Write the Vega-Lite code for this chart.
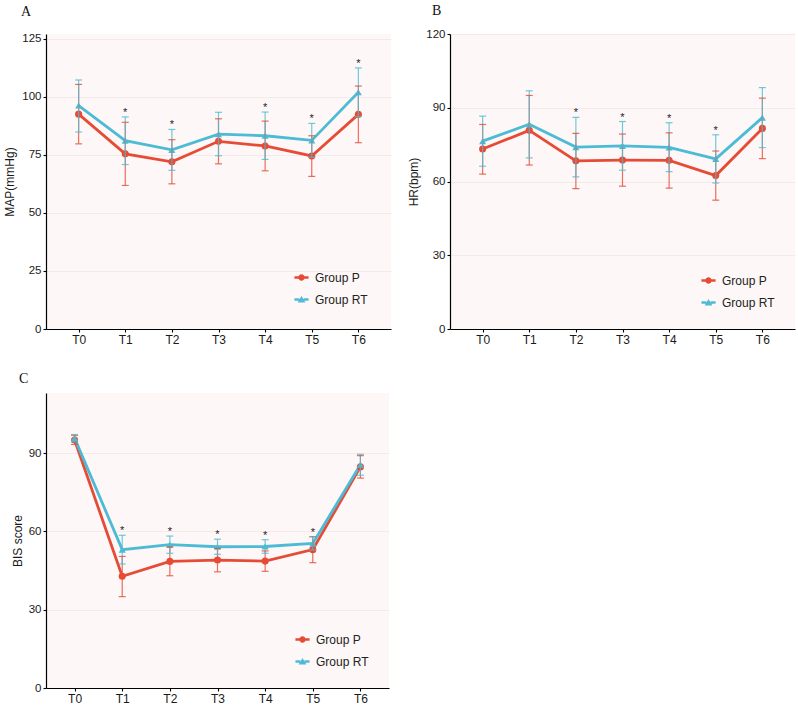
{
  "$schema": "https://vega.github.io/schema/vega-lite/v6.json",
  "padding": {"left": 3, "top": 4, "right": 3, "bottom": 3},
  "background": "white",
  "config": {
    "font": "Liberation Sans",
    "view": {"fill": "#FDF8F7", "stroke": null},
    "axis": {"domainColor": "#000000", "domainWidth": 1.2, "tickColor": "#000000", "tickWidth": 1.1, "tickSize": 3, "labelFont": "Liberation Sans", "labelFontSize": 12, "labelColor": "#1a1a1a", "titleFont": "Liberation Sans", "titleFontSize": 12, "titleFontWeight": "normal", "titleColor": "#1a1a1a", "labelPadding": 2, "gridColor": "#EFE4E2", "gridWidth": 0.7},
    "axisY": {"labelFontSize": 11.5},
    "legend": {"orient": "bottom-right", "offset": 18, "padding": 2, "labelFont": "Liberation Sans", "labelFontSize": 12, "labelColor": "#222222", "symbolSize": 200, "symbolStrokeWidth": 0, "rowPadding": 8, "labelOffset": 6},
    "title": {"font": "Liberation Serif", "fontSize": 14, "fontWeight": "normal", "color": "#111111", "anchor": "start", "frame": "group"}
  },
  "datasets": {
    "d": [
      {"panel": "A", "time": "T0", "group": "Group P", "mean": 92.5, "lo": 79.7, "hi": 105.3, "sig": false},
      {"panel": "A", "time": "T0", "group": "Group RT", "mean": 96.2, "lo": 84.8, "hi": 107.2, "sig": false},
      {"panel": "A", "time": "T1", "group": "Group P", "mean": 75.4, "lo": 61.8, "hi": 89.0, "sig": true},
      {"panel": "A", "time": "T1", "group": "Group RT", "mean": 81.1, "lo": 70.8, "hi": 91.3, "sig": true},
      {"panel": "A", "time": "T2", "group": "Group P", "mean": 72.0, "lo": 62.5, "hi": 81.5, "sig": true},
      {"panel": "A", "time": "T2", "group": "Group RT", "mean": 77.1, "lo": 68.3, "hi": 85.9, "sig": true},
      {"panel": "A", "time": "T3", "group": "Group P", "mean": 80.8, "lo": 71.1, "hi": 90.5, "sig": false},
      {"panel": "A", "time": "T3", "group": "Group RT", "mean": 83.9, "lo": 74.6, "hi": 93.3, "sig": false},
      {"panel": "A", "time": "T4", "group": "Group P", "mean": 78.8, "lo": 68.1, "hi": 89.5, "sig": true},
      {"panel": "A", "time": "T4", "group": "Group RT", "mean": 83.2, "lo": 73.0, "hi": 93.4, "sig": true},
      {"panel": "A", "time": "T5", "group": "Group P", "mean": 74.5, "lo": 65.7, "hi": 83.2, "sig": true},
      {"panel": "A", "time": "T5", "group": "Group RT", "mean": 81.2, "lo": 73.9, "hi": 88.5, "sig": true},
      {"panel": "A", "time": "T6", "group": "Group P", "mean": 92.4, "lo": 80.2, "hi": 104.6, "sig": true},
      {"panel": "A", "time": "T6", "group": "Group RT", "mean": 101.9, "lo": 91.4, "hi": 112.4, "sig": true},
      {"panel": "B", "time": "T0", "group": "Group P", "mean": 73.2, "lo": 63.0, "hi": 83.2, "sig": false},
      {"panel": "B", "time": "T0", "group": "Group RT", "mean": 76.4, "lo": 66.2, "hi": 86.6, "sig": false},
      {"panel": "B", "time": "T1", "group": "Group P", "mean": 80.8, "lo": 66.7, "hi": 95.0, "sig": false},
      {"panel": "B", "time": "T1", "group": "Group RT", "mean": 83.3, "lo": 69.6, "hi": 96.9, "sig": false},
      {"panel": "B", "time": "T2", "group": "Group P", "mean": 68.4, "lo": 57.1, "hi": 79.6, "sig": true},
      {"panel": "B", "time": "T2", "group": "Group RT", "mean": 74.0, "lo": 61.9, "hi": 86.1, "sig": true},
      {"panel": "B", "time": "T3", "group": "Group P", "mean": 68.7, "lo": 58.1, "hi": 79.3, "sig": true},
      {"panel": "B", "time": "T3", "group": "Group RT", "mean": 74.5, "lo": 64.6, "hi": 84.4, "sig": true},
      {"panel": "B", "time": "T4", "group": "Group P", "mean": 68.6, "lo": 57.3, "hi": 79.8, "sig": true},
      {"panel": "B", "time": "T4", "group": "Group RT", "mean": 73.9, "lo": 64.0, "hi": 83.9, "sig": true},
      {"panel": "B", "time": "T5", "group": "Group P", "mean": 62.4, "lo": 52.4, "hi": 72.4, "sig": true},
      {"panel": "B", "time": "T5", "group": "Group RT", "mean": 69.2, "lo": 59.4, "hi": 79.0, "sig": true},
      {"panel": "B", "time": "T6", "group": "Group P", "mean": 81.6, "lo": 69.3, "hi": 93.9, "sig": false},
      {"panel": "B", "time": "T6", "group": "Group RT", "mean": 86.0, "lo": 73.8, "hi": 98.2, "sig": false},
      {"panel": "C", "time": "T0", "group": "Group P", "mean": 95.0, "lo": 93.3, "hi": 96.8, "sig": false},
      {"panel": "C", "time": "T0", "group": "Group RT", "mean": 95.7, "lo": 94.3, "hi": 97.1, "sig": false},
      {"panel": "C", "time": "T1", "group": "Group P", "mean": 42.8, "lo": 35.0, "hi": 50.4, "sig": true},
      {"panel": "C", "time": "T1", "group": "Group RT", "mean": 53.0, "lo": 47.5, "hi": 58.5, "sig": true},
      {"panel": "C", "time": "T2", "group": "Group P", "mean": 48.5, "lo": 43.0, "hi": 54.0, "sig": true},
      {"panel": "C", "time": "T2", "group": "Group RT", "mean": 54.9, "lo": 51.6, "hi": 58.2, "sig": true},
      {"panel": "C", "time": "T3", "group": "Group P", "mean": 49.0, "lo": 44.5, "hi": 53.5, "sig": true},
      {"panel": "C", "time": "T3", "group": "Group RT", "mean": 54.1, "lo": 51.2, "hi": 57.0, "sig": true},
      {"panel": "C", "time": "T4", "group": "Group P", "mean": 48.6, "lo": 44.7, "hi": 52.5, "sig": true},
      {"panel": "C", "time": "T4", "group": "Group RT", "mean": 54.2, "lo": 51.6, "hi": 56.8, "sig": true},
      {"panel": "C", "time": "T5", "group": "Group P", "mean": 53.0, "lo": 48.0, "hi": 58.0, "sig": true},
      {"panel": "C", "time": "T5", "group": "Group RT", "mean": 55.4, "lo": 52.9, "hi": 57.9, "sig": true},
      {"panel": "C", "time": "T6", "group": "Group P", "mean": 84.7, "lo": 80.4, "hi": 89.0, "sig": false},
      {"panel": "C", "time": "T6", "group": "Group RT", "mean": 85.5, "lo": 81.5, "hi": 89.5, "sig": false}
    ]
  },
  "bounds": "full",
  "spacing": 27,
  "vconcat": [
    {
      "hconcat": [
        {
          "title": {"text": "A", "dx": -25, "offset": 14},
          "width": 345, "height": 295,
          "data": {"name": "d"},
          "transform": [{"filter": "datum.panel === 'A'"}],
          "encoding": {"x": {"field": "time", "type": "ordinal", "scale": {"type": "point", "padding": 0.7}, "axis": {"title": null, "labelAngle": 0, "grid": false}}},
          "layer": [
            {"mark": {"type": "line", "strokeWidth": 2.8}, "encoding": {"y": {"field": "mean", "type": "quantitative", "title": "MAP(mmHg)", "scale": {"domain": [0, 127], "nice": false}, "axis": {"values": [0, 25, 50, 75, 100, 125], "grid": true, "titlePadding": 5}}, "color": {"field": "group", "type": "nominal", "scale": {"domain": ["Group P", "Group RT"], "range": ["#E64B35", "#4DBBD5"]}, "legend": null}}},
            {"mark": {"type": "point", "filled": true, "opacity": 1, "size": 50}, "encoding": {"y": {"field": "mean", "type": "quantitative", "title": "MAP(mmHg)", "scale": {"domain": [0, 127], "nice": false}}, "color": {"field": "group", "type": "nominal", "scale": {"domain": ["Group P", "Group RT"], "range": ["#E64B35", "#4DBBD5"]}, "legend": null}, "shape": {"field": "group", "type": "nominal", "scale": {"domain": ["Group P", "Group RT"], "range": ["circle", "triangle-up"]}, "legend": null}}},
            {"mark": {"type": "rule", "strokeWidth": 1.2, "opacity": 0.8}, "encoding": {"y": {"field": "lo", "type": "quantitative", "title": "MAP(mmHg)", "scale": {"domain": [0, 127], "nice": false}}, "y2": {"field": "hi"}, "color": {"field": "group", "type": "nominal", "scale": {"domain": ["Group P", "Group RT"], "range": ["#E64B35", "#4DBBD5"]}, "legend": null}}},
            {"mark": {"type": "tick", "size": 7, "thickness": 1.2, "opacity": 0.8}, "encoding": {"y": {"field": "hi", "type": "quantitative", "title": "MAP(mmHg)", "scale": {"domain": [0, 127], "nice": false}}, "color": {"field": "group", "type": "nominal", "scale": {"domain": ["Group P", "Group RT"], "range": ["#E64B35", "#4DBBD5"]}, "legend": null}}},
            {"mark": {"type": "tick", "size": 7, "thickness": 1.2, "opacity": 0.8}, "encoding": {"y": {"field": "lo", "type": "quantitative", "title": "MAP(mmHg)", "scale": {"domain": [0, 127], "nice": false}}, "color": {"field": "group", "type": "nominal", "scale": {"domain": ["Group P", "Group RT"], "range": ["#E64B35", "#4DBBD5"]}, "legend": null}}},
            {"transform": [{"filter": "datum.sig && datum.group === 'Group RT'"}], "mark": {"type": "text", "text": "*", "dy": -1, "baseline": "alphabetic", "fontSize": 11, "color": "#222222"}, "encoding": {"y": {"field": "hi", "type": "quantitative", "title": "MAP(mmHg)", "scale": {"domain": [0, 127], "nice": false}}}},
            {"transform": [{"filter": "false"}], "mark": {"type": "point", "filled": true, "opacity": 1}, "encoding": {"color": {"field": "group", "type": "nominal", "scale": {"domain": ["Group P", "Group RT"], "range": ["#E64B35", "#4DBBD5"]}, "legend": {"title": null, "offset": 21}}, "shape": {"field": "group", "type": "nominal", "scale": {"domain": ["Group P", "Group RT"], "range": ["M-1,-0.18L-0.4,-0.18L-0.4,0.18L-1,0.18Z M0.4,-0.18L1,-0.18L1,0.18L0.4,0.18Z M-0.45,0A0.45,0.45,0,1,1,0.45,0A0.45,0.45,0,1,1,-0.45,0Z", "M-1,-0.18L-0.3,-0.18L-0.3,0.18L-1,0.18Z M0.3,-0.18L1,-0.18L1,0.18L0.3,0.18Z M0,-0.5L0.55,0.42L-0.55,0.42Z"]}, "legend": {"title": null, "offset": 21}}}}
          ],
          "resolve": {"scale": {"color": "independent", "shape": "independent"}}
        },
        {
          "title": {"text": "B", "dx": -18, "offset": 10},
          "width": 345, "height": 295,
          "data": {"name": "d"},
          "transform": [{"filter": "datum.panel === 'B'"}],
          "encoding": {"x": {"field": "time", "type": "ordinal", "scale": {"type": "point", "padding": 0.7}, "axis": {"title": null, "labelAngle": 0, "grid": false}}},
          "layer": [
            {"mark": {"type": "line", "strokeWidth": 2.8}, "encoding": {"y": {"field": "mean", "type": "quantitative", "title": "HR(bpm)", "scale": {"domain": [0, 120], "nice": false}, "axis": {"values": [0, 30, 60, 90, 120], "grid": true, "titlePadding": 5}}, "color": {"field": "group", "type": "nominal", "scale": {"domain": ["Group P", "Group RT"], "range": ["#E64B35", "#4DBBD5"]}, "legend": null}}},
            {"mark": {"type": "point", "filled": true, "opacity": 1, "size": 50}, "encoding": {"y": {"field": "mean", "type": "quantitative", "title": "HR(bpm)", "scale": {"domain": [0, 120], "nice": false}}, "color": {"field": "group", "type": "nominal", "scale": {"domain": ["Group P", "Group RT"], "range": ["#E64B35", "#4DBBD5"]}, "legend": null}, "shape": {"field": "group", "type": "nominal", "scale": {"domain": ["Group P", "Group RT"], "range": ["circle", "triangle-up"]}, "legend": null}}},
            {"mark": {"type": "rule", "strokeWidth": 1.2, "opacity": 0.8}, "encoding": {"y": {"field": "lo", "type": "quantitative", "title": "HR(bpm)", "scale": {"domain": [0, 120], "nice": false}}, "y2": {"field": "hi"}, "color": {"field": "group", "type": "nominal", "scale": {"domain": ["Group P", "Group RT"], "range": ["#E64B35", "#4DBBD5"]}, "legend": null}}},
            {"mark": {"type": "tick", "size": 7, "thickness": 1.2, "opacity": 0.8}, "encoding": {"y": {"field": "hi", "type": "quantitative", "title": "HR(bpm)", "scale": {"domain": [0, 120], "nice": false}}, "color": {"field": "group", "type": "nominal", "scale": {"domain": ["Group P", "Group RT"], "range": ["#E64B35", "#4DBBD5"]}, "legend": null}}},
            {"mark": {"type": "tick", "size": 7, "thickness": 1.2, "opacity": 0.8}, "encoding": {"y": {"field": "lo", "type": "quantitative", "title": "HR(bpm)", "scale": {"domain": [0, 120], "nice": false}}, "color": {"field": "group", "type": "nominal", "scale": {"domain": ["Group P", "Group RT"], "range": ["#E64B35", "#4DBBD5"]}, "legend": null}}},
            {"transform": [{"filter": "datum.sig && datum.group === 'Group RT'"}], "mark": {"type": "text", "text": "*", "dy": -1, "baseline": "alphabetic", "fontSize": 11, "color": "#222222"}, "encoding": {"y": {"field": "hi", "type": "quantitative", "title": "HR(bpm)", "scale": {"domain": [0, 120], "nice": false}}}},
            {"transform": [{"filter": "false"}], "mark": {"type": "point", "filled": true, "opacity": 1}, "encoding": {"color": {"field": "group", "type": "nominal", "scale": {"domain": ["Group P", "Group RT"], "range": ["#E64B35", "#4DBBD5"]}, "legend": {"title": null, "offset": 18}}, "shape": {"field": "group", "type": "nominal", "scale": {"domain": ["Group P", "Group RT"], "range": ["M-1,-0.18L-0.4,-0.18L-0.4,0.18L-1,0.18Z M0.4,-0.18L1,-0.18L1,0.18L0.4,0.18Z M-0.45,0A0.45,0.45,0,1,1,0.45,0A0.45,0.45,0,1,1,-0.45,0Z", "M-1,-0.18L-0.3,-0.18L-0.3,0.18L-1,0.18Z M0.3,-0.18L1,-0.18L1,0.18L0.3,0.18Z M0,-0.5L0.55,0.42L-0.55,0.42Z"]}, "legend": {"title": null, "offset": 18}}}}
          ],
          "resolve": {"scale": {"color": "independent", "shape": "independent"}}
        }
      ],
      "spacing": 59,
      "bounds": "flush"
    },
    {
      "hconcat": [
        {
          "title": {"text": "C", "dx": -27, "offset": 7},
          "width": 343, "height": 295,
          "data": {"name": "d"},
          "transform": [{"filter": "datum.panel === 'C'"}],
          "encoding": {"x": {"field": "time", "type": "ordinal", "scale": {"type": "point", "padding": 0.6}, "axis": {"title": null, "labelAngle": 0, "grid": false}}},
          "layer": [
            {"mark": {"type": "line", "strokeWidth": 2.8}, "encoding": {"y": {"field": "mean", "type": "quantitative", "title": "BIS score", "scale": {"domain": [0, 113], "nice": false}, "axis": {"values": [0, 30, 60, 90], "grid": true, "titlePadding": 4}}, "color": {"field": "group", "type": "nominal", "scale": {"domain": ["Group P", "Group RT"], "range": ["#E64B35", "#4DBBD5"]}, "legend": null}}},
            {"mark": {"type": "point", "filled": true, "opacity": 1, "size": 50}, "encoding": {"y": {"field": "mean", "type": "quantitative", "title": "BIS score", "scale": {"domain": [0, 113], "nice": false}}, "color": {"field": "group", "type": "nominal", "scale": {"domain": ["Group P", "Group RT"], "range": ["#E64B35", "#4DBBD5"]}, "legend": null}, "shape": {"field": "group", "type": "nominal", "scale": {"domain": ["Group P", "Group RT"], "range": ["circle", "triangle-up"]}, "legend": null}}},
            {"mark": {"type": "rule", "strokeWidth": 1.2, "opacity": 0.8}, "encoding": {"y": {"field": "lo", "type": "quantitative", "title": "BIS score", "scale": {"domain": [0, 113], "nice": false}}, "y2": {"field": "hi"}, "color": {"field": "group", "type": "nominal", "scale": {"domain": ["Group P", "Group RT"], "range": ["#E64B35", "#4DBBD5"]}, "legend": null}}},
            {"mark": {"type": "tick", "size": 7, "thickness": 1.2, "opacity": 0.8}, "encoding": {"y": {"field": "hi", "type": "quantitative", "title": "BIS score", "scale": {"domain": [0, 113], "nice": false}}, "color": {"field": "group", "type": "nominal", "scale": {"domain": ["Group P", "Group RT"], "range": ["#E64B35", "#4DBBD5"]}, "legend": null}}},
            {"mark": {"type": "tick", "size": 7, "thickness": 1.2, "opacity": 0.8}, "encoding": {"y": {"field": "lo", "type": "quantitative", "title": "BIS score", "scale": {"domain": [0, 113], "nice": false}}, "color": {"field": "group", "type": "nominal", "scale": {"domain": ["Group P", "Group RT"], "range": ["#E64B35", "#4DBBD5"]}, "legend": null}}},
            {"transform": [{"filter": "datum.sig && datum.group === 'Group RT'"}], "mark": {"type": "text", "text": "*", "dy": -1, "baseline": "alphabetic", "fontSize": 11, "color": "#222222"}, "encoding": {"y": {"field": "hi", "type": "quantitative", "title": "BIS score", "scale": {"domain": [0, 113], "nice": false}}}},
            {"transform": [{"filter": "false"}], "mark": {"type": "point", "filled": true, "opacity": 1}, "encoding": {"color": {"field": "group", "type": "nominal", "scale": {"domain": ["Group P", "Group RT"], "range": ["#E64B35", "#4DBBD5"]}, "legend": {"title": null, "offset": 18}}, "shape": {"field": "group", "type": "nominal", "scale": {"domain": ["Group P", "Group RT"], "range": ["M-1,-0.18L-0.4,-0.18L-0.4,0.18L-1,0.18Z M0.4,-0.18L1,-0.18L1,0.18L0.4,0.18Z M-0.45,0A0.45,0.45,0,1,1,0.45,0A0.45,0.45,0,1,1,-0.45,0Z", "M-1,-0.18L-0.3,-0.18L-0.3,0.18L-1,0.18Z M0.3,-0.18L1,-0.18L1,0.18L0.3,0.18Z M0,-0.5L0.55,0.42L-0.55,0.42Z"]}, "legend": {"title": null, "offset": 18}}}}
          ],
          "resolve": {"scale": {"color": "independent", "shape": "independent"}}
        }
      ]
    }
  ]
}
